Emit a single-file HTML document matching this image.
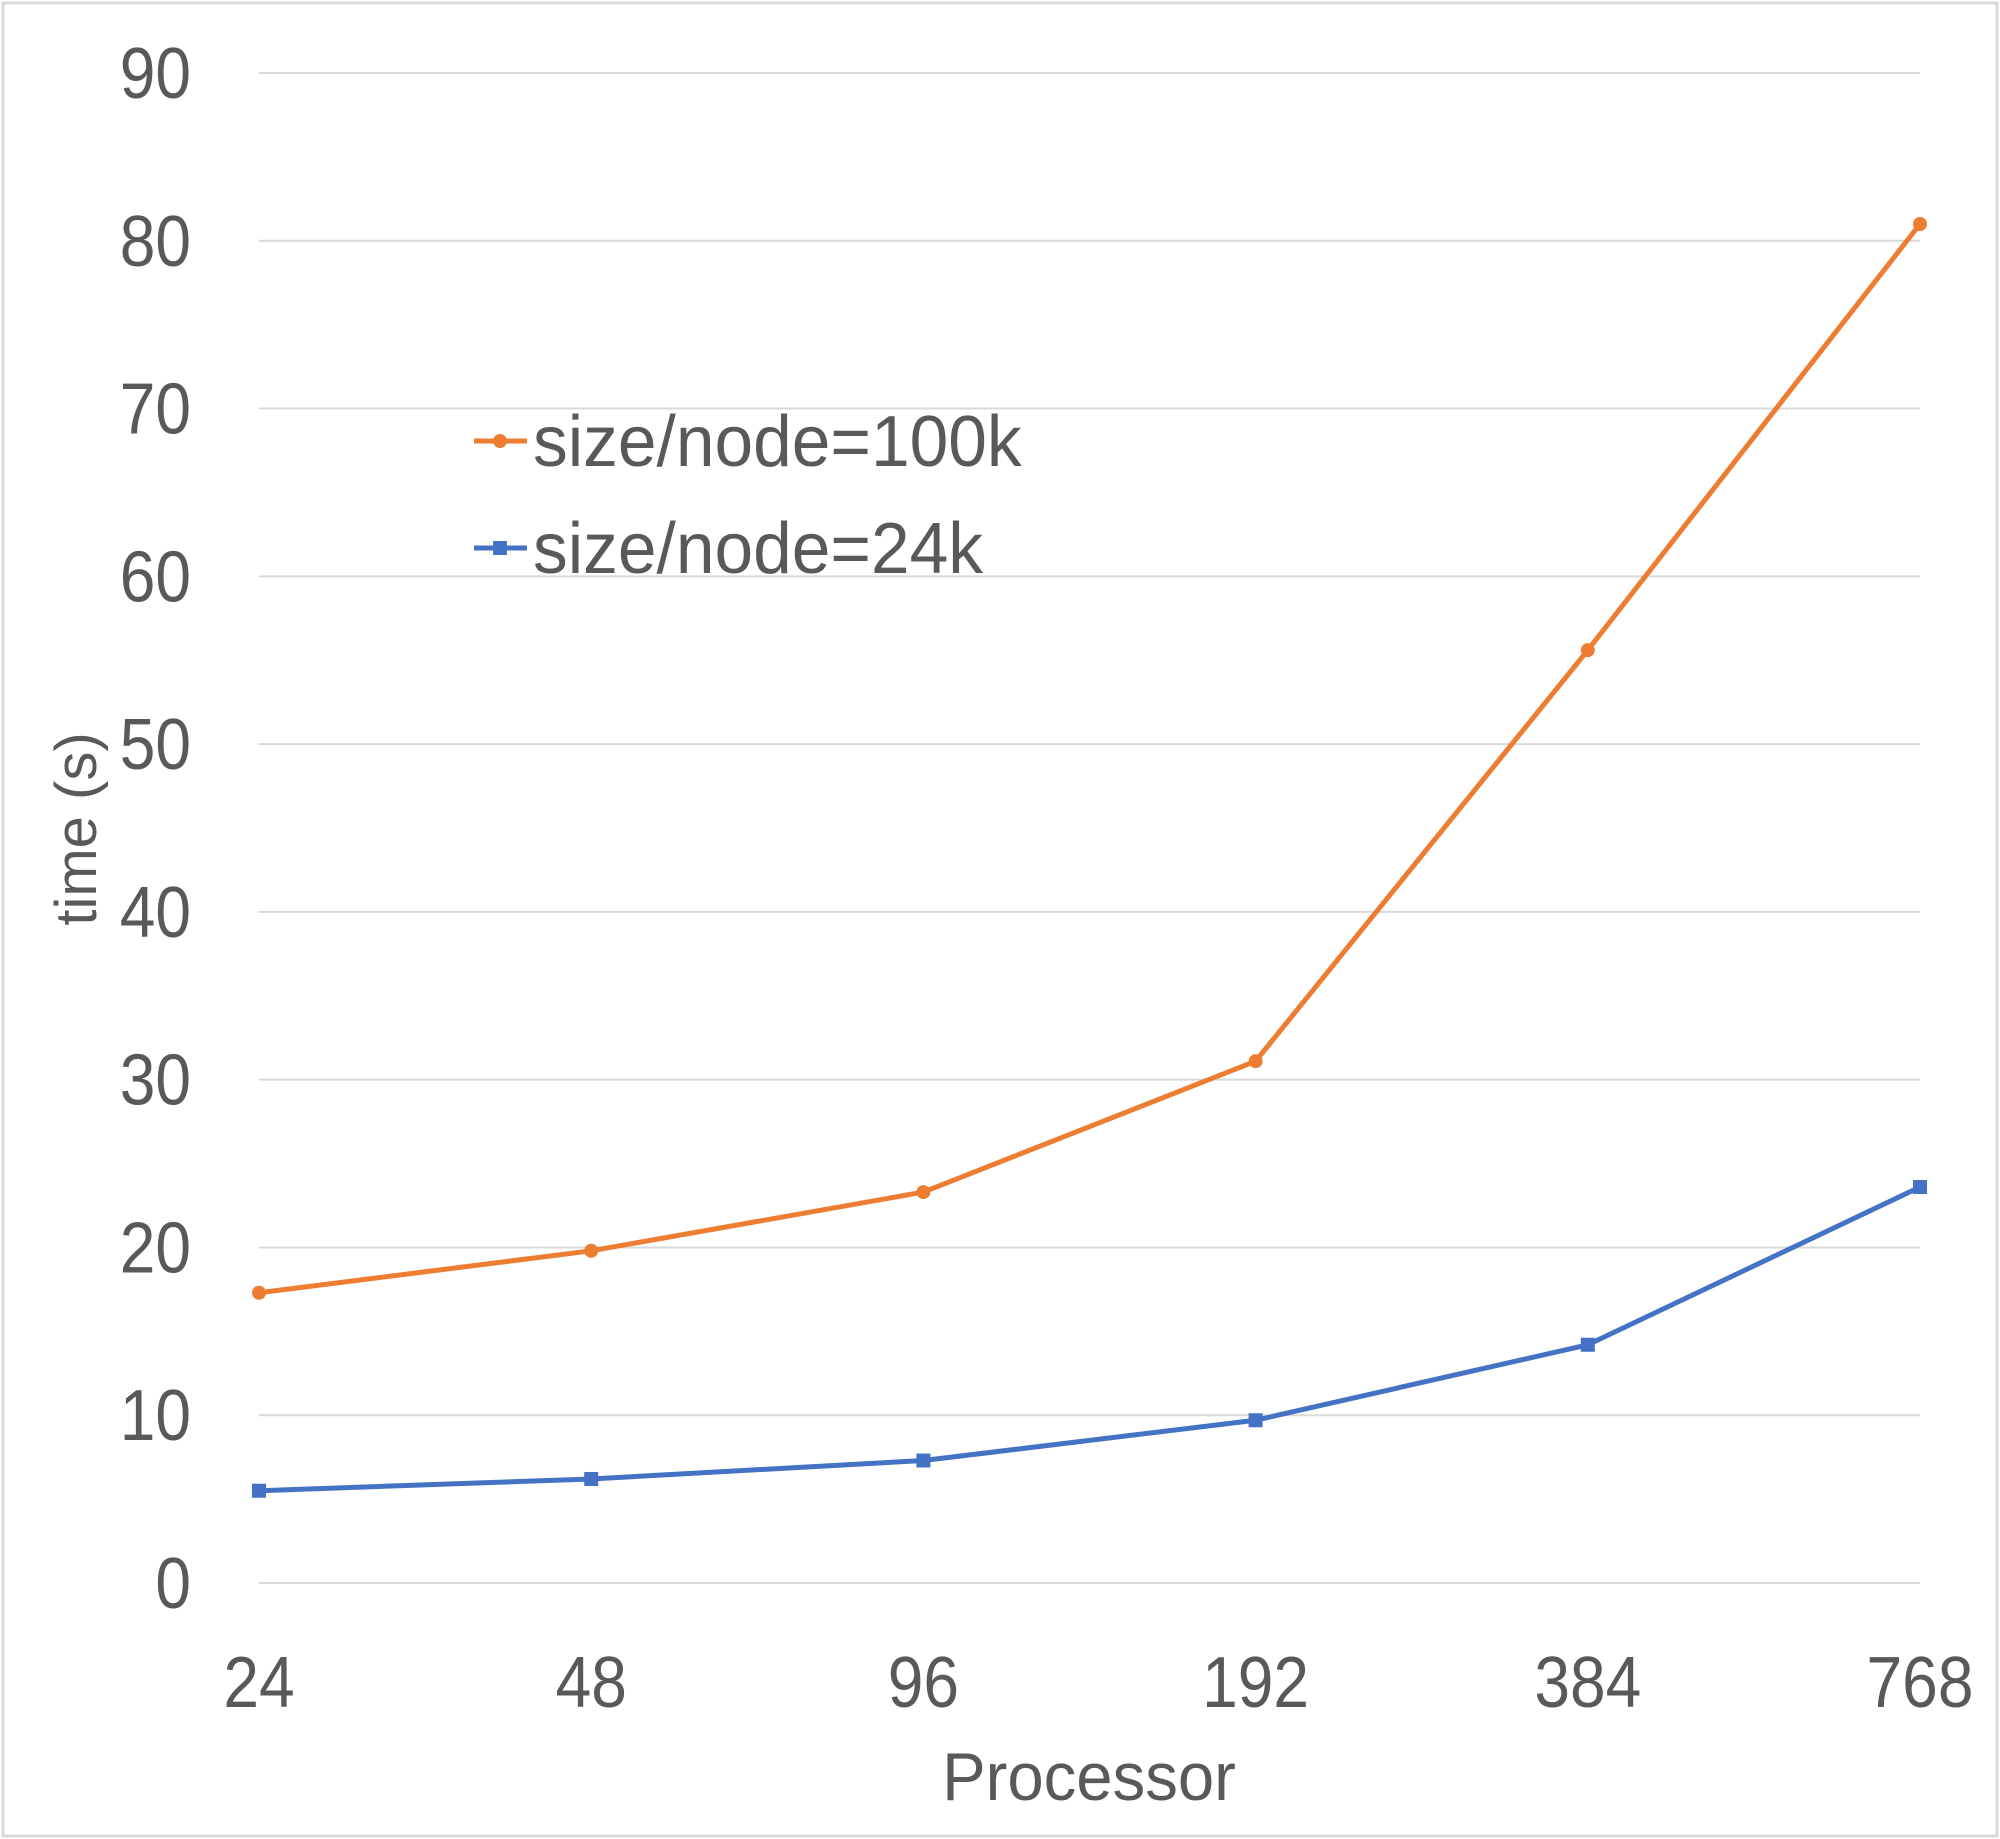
<!DOCTYPE html>
<html><head><meta charset="utf-8"><style>
html,body{margin:0;padding:0;background:#fff}
svg{display:block}
text{font-family:"Liberation Sans",sans-serif;fill:#595959}
</style></head><body>
<svg id="chart" width="2000" height="1839" viewBox="0 0 2000 1839" xmlns="http://www.w3.org/2000/svg">
<rect x="3" y="3" width="1994" height="1833" fill="#fff" stroke="#d9d9d9" stroke-width="3"/>
<g id="grid"></g><g id="ylabels"></g><g id="xlabels"></g><g id="series"></g>
<text transform="translate(96,829) rotate(-90)" text-anchor="middle" font-size="58">time (s)</text>
<text transform="translate(1089,1800) scale(0.96,1)" text-anchor="middle" font-size="68">Processor</text>
<g>
<g>
<line x1="474" y1="441" x2="527" y2="441" stroke="#ed7d31" stroke-width="5"/><circle cx="500" cy="441" r="7" fill="#ed7d31"/>
<text transform="translate(533,466) scale(0.965,1)" font-size="72">size/node=100k</text></g>
<g>
<line x1="474" y1="548" x2="527" y2="548" stroke="#4472c4" stroke-width="5"/><rect x="493" y="541" width="14" height="14" fill="#4472c4"/>
<text transform="translate(533,573) scale(0.965,1)" font-size="72">size/node=24k</text></g>
</g>
</svg>
<script>
const categories=["24","48","96","192","384","768"];
const series100k=[17.3,19.8,23.3,31.1,55.6,81.0];
const series24k=[5.5,6.2,7.3,9.7,14.2,23.6];
const yTicks=[0,10,20,30,40,50,60,70,80,90];
const NS="http://www.w3.org/2000/svg";
const x0=259,x1=1920,yTop=73,yBot=1583,yMax=90;
function xs(i){return x0+(x1-x0)*i/(categories.length-1);}
function ys(v){return yBot-(yBot-yTop)*v/yMax;}
function mk(tag,attrs,parent){const e=document.createElementNS(NS,tag);for(const k in attrs)e.setAttribute(k,attrs[k]);parent.appendChild(e);return e;}
const grid=document.getElementById('grid'),yl=document.getElementById('ylabels'),xl=document.getElementById('xlabels'),sg=document.getElementById('series');
yTicks.forEach(t=>{
 const l=mk('line',{x1:x0,x2:x1,y1:ys(t),y2:ys(t),stroke:'#d9d9d9','stroke-width':2},grid);
 
 
 const tx=mk('text',{transform:'translate(191,'+(ys(t)+25)+') scale(0.89,1)','text-anchor':'end','font-size':72},yl);
 tx.textContent=t;
 
 
});
categories.forEach((c,i)=>{
 const tx=mk('text',{transform:'translate('+xs(i)+',1707) scale(0.89,1)','text-anchor':'middle','font-size':72},xl);
 tx.textContent=c;
 
 
});
function draw(vals,color,name,square){
 const p=mk('polyline',{points:vals.map((v,i)=>xs(i)+','+ys(v)).join(' '),fill:'none',stroke:color,'stroke-width':5,'stroke-linejoin':'round'},sg);
 
 
 vals.forEach((v,i)=>{
  let m;
  if(square)m=mk('rect',{x:xs(i)-7,y:ys(v)-7,width:14,height:14,fill:color},sg);
  else m=mk('circle',{cx:xs(i),cy:ys(v),r:7,fill:color},sg);
  
  
 });
}
draw(series100k,'#ed7d31','series-100k',false);
draw(series24k,'#4472c4','series-24k',true);
</script>
</body></html>
